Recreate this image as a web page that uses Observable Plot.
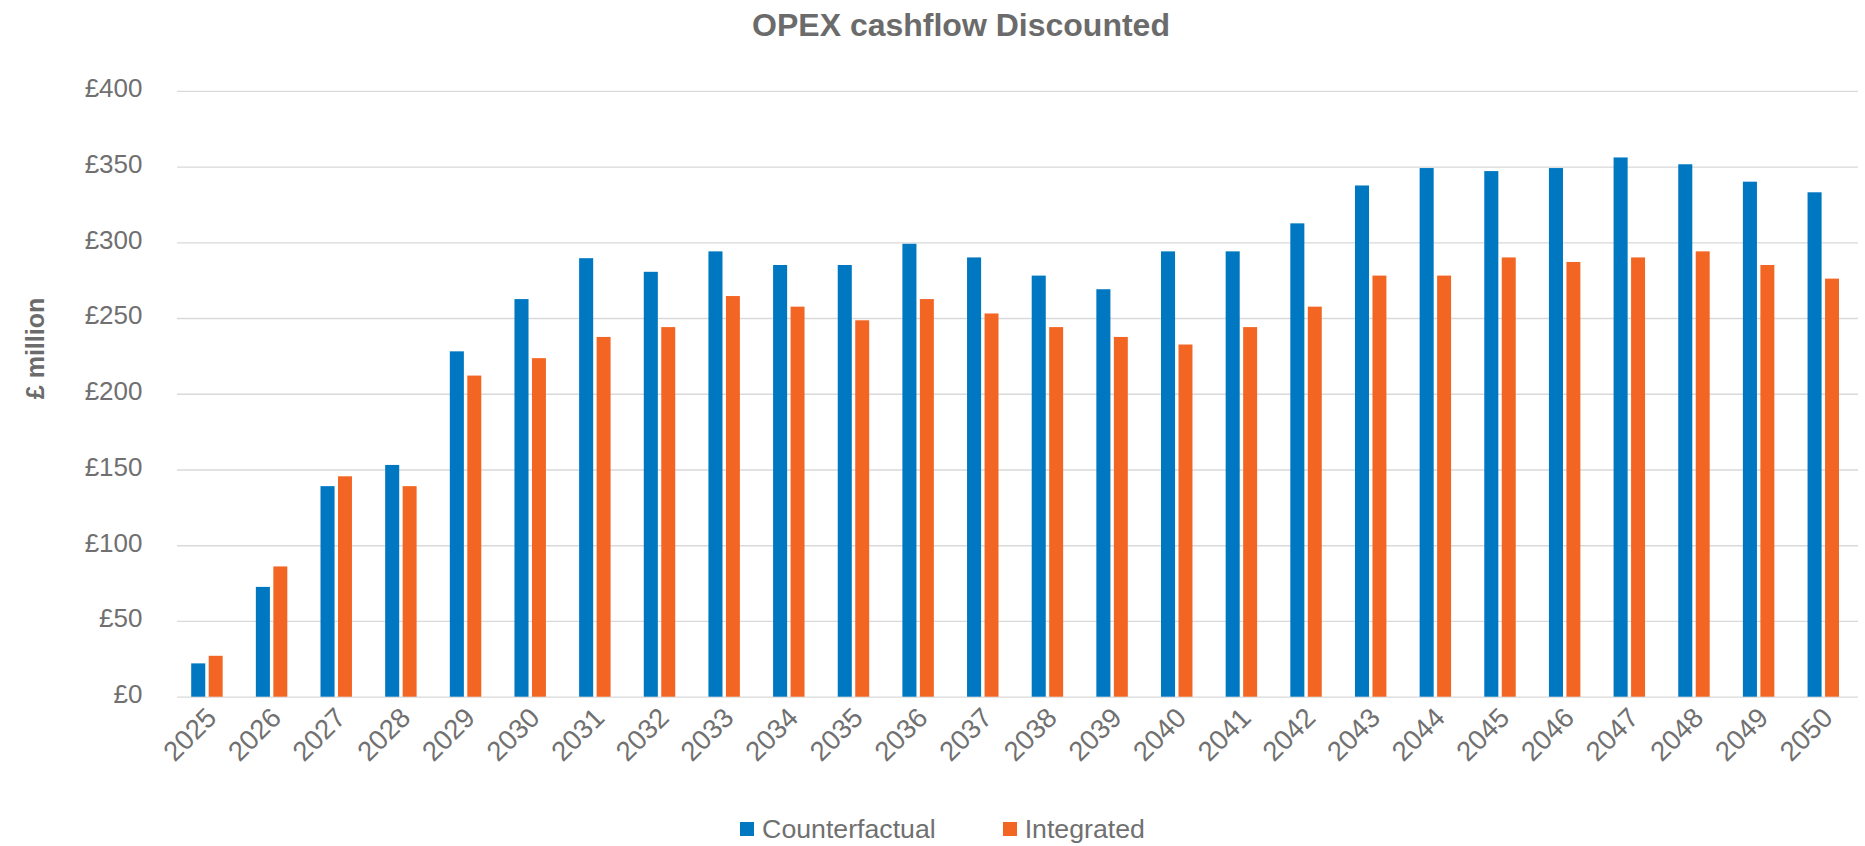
<!DOCTYPE html>
<html>
<head>
<meta charset="utf-8">
<script src="https://cdn.jsdelivr.net/npm/d3@7"></script>
<script src="https://cdn.jsdelivr.net/npm/@observablehq/plot@0.6"></script>
<style>
  html, body { margin: 0; padding: 0; background: #fff; }
  #wrap { position: relative; width: 1865px; height: 846px; font-family: "Liberation Sans", Arial, sans-serif; overflow: hidden; }
  #title { position: absolute; left: 0; top: 7px; width: 1865px; padding-left: 57px; box-sizing: border-box; text-align: center; font-size: 32px; font-weight: bold; color: #6b6b6b; white-space: nowrap; }
  #chart { position: absolute; left: 0; top: 50px; }
  #legend { position: absolute; left: 0; top: 790px; width: 1865px; height: 56px; box-sizing: border-box; padding-top: 24px; padding-left: 20px; display: flex; justify-content: center; align-items: flex-start; font-size: 26.7px; color: #707070; }
  .item { display: flex; align-items: center; height: 30px; }
  .item + .item { margin-left: 67px; }
  .sw { width: 14px; height: 14px; margin-right: 8px; display: inline-block; }
</style>
</head>
<body>
<div id="wrap">
  <div id="title"></div>
  <div id="chart"></div>
  <div id="legend"></div>
</div>
<script>
const titleText = "OPEX cashflow Discounted";
const yLabel = "£ million";
const years = ["2025","2026","2027","2028","2029","2030","2031","2032","2033","2034","2035","2036","2037","2038","2039","2040","2041","2042","2043","2044","2045","2046","2047","2048","2049","2050"];
const counterfactual = [22, 72.5, 139, 153, 228, 262.5, 289.5, 280.5, 294, 285, 285, 299, 290, 278, 269, 294, 294, 312.5, 337.5, 349, 347, 349, 356, 351.5, 340, 333];
const integrated = [27, 86, 145.5, 139, 212, 223.5, 237.5, 244, 264.5, 257.5, 248.5, 262.5, 253, 244, 237.5, 232.5, 244, 257.5, 278, 278, 290, 287, 290, 294, 285, 276];
const yTicks = [0, 50, 100, 150, 200, 250, 300, 350, 400];
const seriesNames = ["Counterfactual", "Integrated"];
const seriesColors = ["#0078c1", "#f36523"];

const cfData = years.map((y, i) => ({year: y, value: counterfactual[i]}));
const inData = years.map((y, i) => ({year: y, value: integrated[i]}));

const textColor = "#707070";

const chart = Plot.plot({
  width: 1865,
  height: 740,
  marginLeft: 177,
  marginRight: 7,
  marginTop: 40.8,
  marginBottom: 93.3,
  style: {fontFamily: "'Liberation Sans', Arial, sans-serif", background: "#fff"},
  x: {type: "band", domain: years, padding: 0, round: false, label: null},
  y: {domain: [0, 400], label: null},
  marks: [
    Plot.ruleY(yTicks, {stroke: "#d9d9d9", strokeWidth: 1.3}),
    Plot.barY(cfData, {x: "year", y: "value", fill: seriesColors[0], insetLeft: 14.2, insetRight: 36.4}),
    Plot.barY(inData, {x: "year", y: "value", fill: seriesColors[1], insetLeft: 31.7, insetRight: 19.0}),
    Plot.axisY({ticks: yTicks, tickFormat: d => "£" + d, tickSize: 0, tickPadding: 35, fontSize: 26, color: textColor, dy: -2.5, label: null}),
    Plot.axisX({tickRotate: -45, tickSize: 0, tickPadding: 16, fontSize: 27.5, color: textColor, label: null, dx: 2}),
    Plot.text([yLabel], {text: d => d, frameAnchor: "left", textAnchor: "middle", rotate: -90, dx: -142, dy: -45.75, fontSize: 25, fontWeight: "bold", fill: "#6b6b6b"})
  ]
});
document.getElementById("chart").appendChild(chart);
document.getElementById("title").textContent = titleText;

const legend = document.getElementById("legend");
seriesNames.forEach((name, i) => {
  const item = document.createElement("div");
  item.className = "item";
  const sw = document.createElement("span");
  sw.className = "sw";
  sw.style.background = seriesColors[i];
  const label = document.createElement("span");
  label.textContent = name;
  item.appendChild(sw);
  item.appendChild(label);
  legend.appendChild(item);
});
</script>
</body>
</html>
